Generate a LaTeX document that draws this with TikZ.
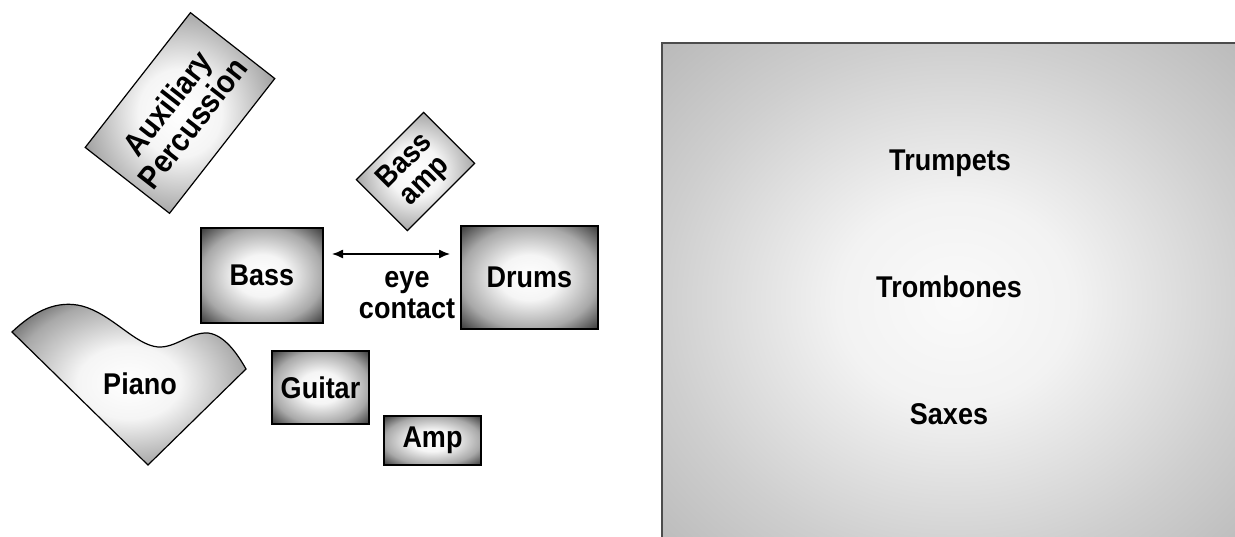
\documentclass[tikz,border=0pt]{standalone}
\usepackage{fontspec}
\setmainfont[FakeStretch=0.9]{Liberation Sans}
\usetikzlibrary{arrows.meta}
\pgfdeclareradialshading{boxshade}{\pgfpoint{0bp}{0bp}}{color(0bp)=(white); color(11bp)=(white!96!black); color(25bp)=(black!34); color(35bp)=(black!76); color(50bp)=(black!76)}
\pgfdeclareradialshading{bigshade}{\pgfpoint{0bp}{0bp}}{color(0bp)=(white!98!black); color(10bp)=(black!5); color(25bp)=(black!19); color(35bp)=(black!27); color(50bp)=(black!27)}
\tikzset{
  lbl/.style={font=\fontsize{30}{31}\selectfont\bfseries, align=center, inner sep=0pt},
  instr/.style={draw=black, line width=1.2pt, shading=boxshade, lbl},
}
\begin{document}
\begin{tikzpicture}[x=1pt,y=-1pt]
\useasboundingbox (0,0) rectangle (1235,537);
% big horn section area
\begin{scope}
\clip (0,0) rectangle (1235,537);
\path[shading=bigshade, draw=black!70, line width=2pt] (662,43) rectangle (1250,560);
\end{scope}
\node[lbl] (trumpets) at (950,163) {Trumpets};
\node[lbl] (trombones) at (949,287) {Trombones};
\node[lbl] (saxes) at (949,414) {Saxes};
% rotated boxes
\node[instr, rotate=52, minimum width=171pt, minimum height=107pt, font=\fontsize{32}{32}\selectfont\bfseries] (aux) at (180,113) {Auxiliary\\Percussion};
\node[instr, rotate=45, minimum width=95pt, minimum height=72pt, font=\fontsize{30}{28}\selectfont\bfseries] (bassamp) at (415.5,171.5) {Bass\\amp};
% rhythm boxes
\node[instr, minimum width=122pt, minimum height=95pt] (bass) at (262,275.5) {Bass};
\node[instr, minimum width=137pt, minimum height=103pt] (drums) at (529.5,277.5) {Drums};
\node[instr, minimum width=97pt, minimum height=73pt] (guitar) at (320.5,387.5) {Guitar};
\node[instr, minimum width=97pt, minimum height=49pt] (amp) at (432.5,440.5) {Amp};
% piano
\path[draw=black, line width=1.2pt, shading=boxshade]
  (12,332) .. controls (35,310) and (58,300) .. (82,306)
  .. controls (112,314) and (135,345) .. (158,347)
  .. controls (176,348) and (190,332) .. (208,333)
  .. controls (225,335) and (238,355) .. (246,369)
  -- (148,465) -- cycle;
\node[lbl] (piano) at (140,384) {Piano};
% eye contact
\coordinate (eyeL) at (332,254);
\coordinate (eyeR) at (450,254);
\draw[line width=1.3pt, {Latex[length=11pt,width=9pt]}-{Latex[length=11pt,width=9pt]}] (eyeL) -- (eyeR);
\node[lbl] (eye) at (407,295.5) {eye\\contact};
\end{tikzpicture}
\end{document}
